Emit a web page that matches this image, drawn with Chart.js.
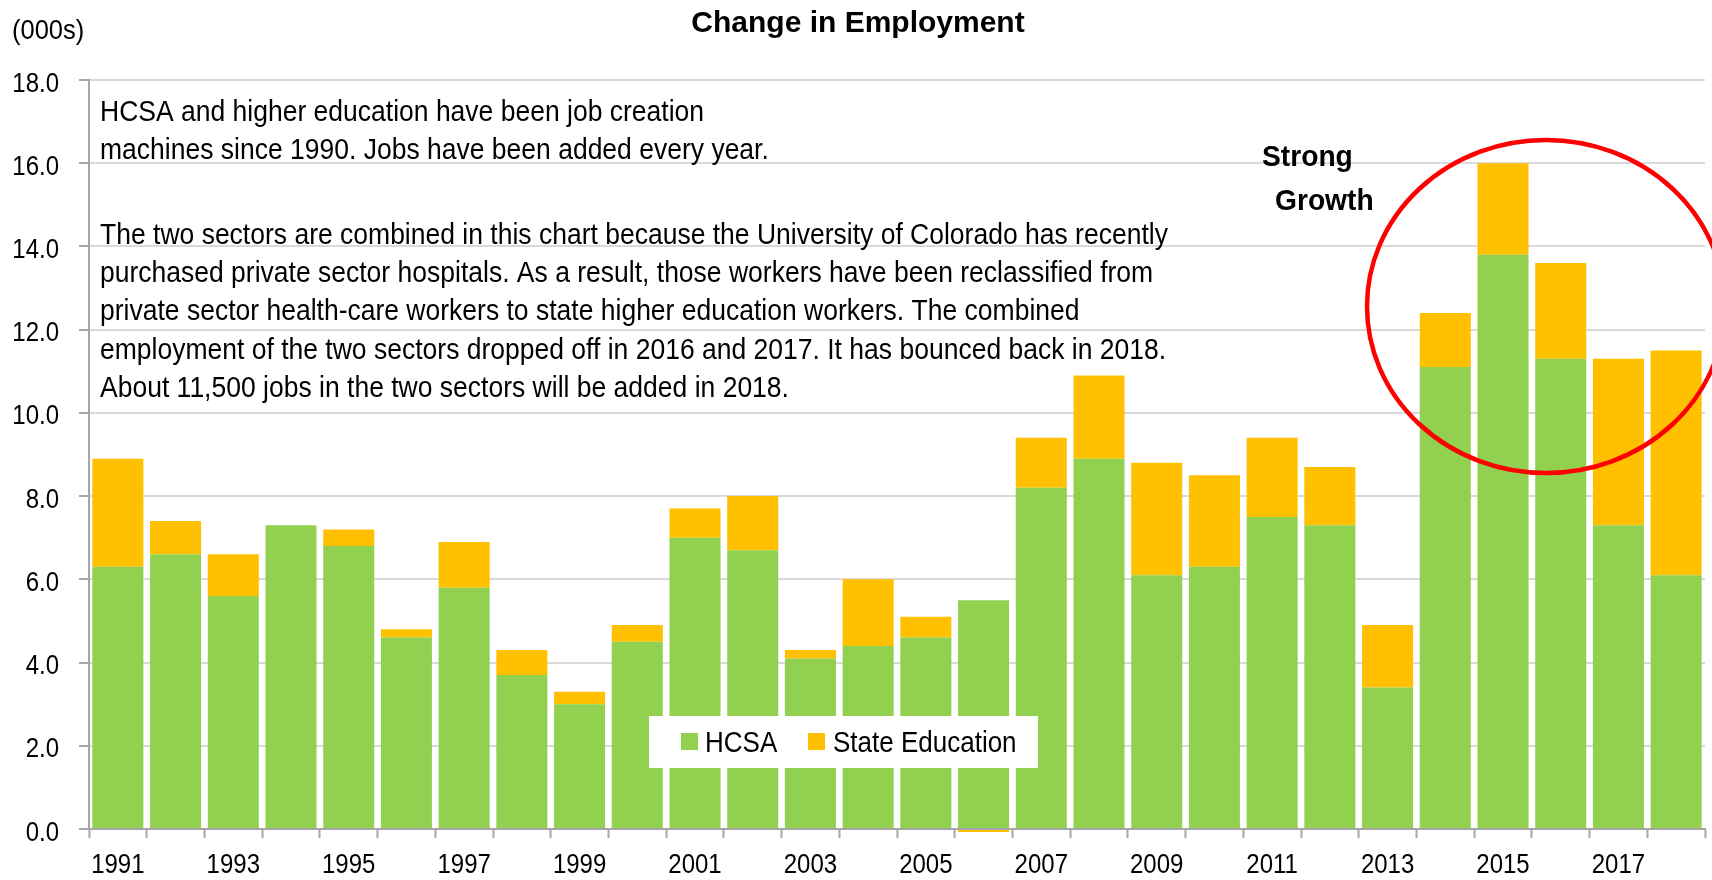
<!DOCTYPE html>
<html>
<head>
<meta charset="utf-8">
<title>Change in Employment</title>
<script src="https://cdn.jsdelivr.net/npm/chart.js@4.4.1/dist/chart.umd.min.js"></script>
<style>
    html, body { margin: 0; padding: 0; background: #fff; }
    #wrap { width: 1712px; height: 880px; position: relative; }
</style>
</head>
<body>
<div id="wrap"><canvas id="employmentChart"></canvas></div>
<script>
// values (thousands of jobs added per year)
const years = ['1991', '1992', '1993', '1994', '1995', '1996', '1997', '1998', '1999', '2000',
    '2001', '2002', '2003', '2004', '2005', '2006', '2007', '2008', '2009', '2010',
    '2011', '2012', '2013', '2014', '2015', '2016', '2017', '2018'];
const hcsa = [6.3, 6.6, 5.6, 7.3, 6.8, 4.6, 5.8, 3.7, 3.0, 4.5,
    7.0, 6.7, 4.1, 4.4, 4.6, 5.5, 8.2, 8.9, 6.1, 6.3,
    7.5, 7.3, 3.4, 11.1, 13.8, 11.3, 7.3, 6.1];
const stateEducation = [2.6, 0.8, 1.0, 0.0, 0.4, 0.2, 1.1, 0.6, 0.3, 0.4,
    0.7, 1.3, 0.2, 1.6, 0.5, -0.07, 1.2, 2.0, 2.7, 2.2,
    1.9, 1.4, 1.5, 1.3, 2.2, 2.3, 4.0, 5.4];

// axis labels
const labelledYears = ['1991', '1993', '1995', '1997', '1999', '2001', '2003',
    '2005', '2007', '2009', '2011', '2013', '2015', '2017'];
const yMin = 0, yMax = 18, yStep = 2;

// texts
const chartTitle = 'Change in Employment';
const unitsLabel = '(000s)';
const noteLines = [
    'HCSA and higher education have been job creation',
    'machines since 1990. Jobs have been added every year.',
    'The two sectors are combined in this chart because the University of Colorado has recently',
    'purchased private sector hospitals. As a result, those workers have been reclassified from',
    'private sector health-care workers to state higher education workers. The combined',
    'employment of the two sectors dropped off in 2016 and 2017. It has bounced back in 2018.',
    'About 11,500 jobs in the two sectors will be added in 2018.'
];
const calloutLines = ['Strong', 'Growth'];

const FONT = '"Liberation Sans", Arial, Helvetica, sans-serif';
Chart.defaults.font.family = FONT;
Chart.defaults.color = '#000';

// the original's lettering is a bit taller than Arial, so stretch it vertically
function drawText(ctx, text, x, y, stretch, align) {
    ctx.save();
    ctx.translate(x, y);
    ctx.scale(1, stretch);
    ctx.textAlign = align || 'left';
    ctx.fillText(text, 0, 0);
    ctx.restore();
}

// draws tick labels, title, note, callout circle and the legend box on top of the bars
const overlayPlugin = {
    id: 'overlay',
    afterDraw(chart) {
        const ctx = chart.ctx;
        ctx.save();
        ctx.fillStyle = '#000';
        ctx.textBaseline = 'alphabetic';

        // tick labels, placed from the scales
        const xScale = chart.scales.x;
        const yScale = chart.scales.y;
        ctx.font = '24px ' + FONT;
        xScale.ticks.forEach((tick, i) => {
            const label = xScale.getLabelForValue(tick.value);
            if (!labelledYears.includes(label)) return;
            drawText(ctx, label, xScale.getPixelForTick(i), 873, 1.12, 'center');
        });
        yScale.ticks.forEach(tick => {
            drawText(ctx, tick.label, 59, yScale.getPixelForValue(tick.value) + 11.6, 1.12, 'right');
        });

        // title
        ctx.font = 'bold 30px ' + FONT;
        drawText(ctx, chartTitle, 858, 32, 1.0, 'center');

        // units
        ctx.font = '25.5px ' + FONT;
        drawText(ctx, unitsLabel, 12, 38.5, 1.1);

        // note
        const noteY = [120.5, 158.8, 243.6, 282, 320.3, 358.6, 397];
        ctx.font = '26.5px ' + FONT;
        noteLines.forEach((line, i) => drawText(ctx, line, 100, noteY[i], 1.09));

        // callout
        ctx.font = 'bold 28.2px ' + FONT;
        drawText(ctx, calloutLines[0], 1262, 165.7, 1.06);
        drawText(ctx, calloutLines[1], 1275, 210, 1.06);

        // red circle round the recent years
        ctx.beginPath();
        ctx.ellipse(1546, 306.5, 179, 166.5, 0, 0, Math.PI * 2);
        ctx.strokeStyle = '#FF0000';
        ctx.lineWidth = 4.5;
        ctx.stroke();

        // legend box
        ctx.fillStyle = '#fff';
        ctx.fillRect(649, 716, 389, 52);
        ctx.font = '26px ' + FONT;
        const items = [{ sx: 681, tx: 705 }, { sx: 808, tx: 833 }];
        chart.data.datasets.forEach((ds, i) => {
            ctx.fillStyle = ds.backgroundColor;
            ctx.fillRect(items[i].sx, 733, 17, 17);
            ctx.fillStyle = '#000';
            drawText(ctx, ds.label, items[i].tx, 751.5, 1.13);
        });

        ctx.restore();
    }
};

document.addEventListener('DOMContentLoaded', function () {
    const ctx = document.getElementById('employmentChart').getContext('2d');

    const employmentChart = new Chart(ctx, {
        type: 'bar',
        data: {
            labels: years,
            datasets: [{
                label: 'HCSA',
                data: hcsa,
                backgroundColor: '#92D050',
                barPercentage: 0.884,
                categoryPercentage: 1,
                clip: false
            }, {
                label: 'State Education',
                data: stateEducation,
                backgroundColor: '#FFC000',
                barPercentage: 0.884,
                categoryPercentage: 1,
                clip: false
            }]
        },
        options: {
            responsive: true,
            maintainAspectRatio: false,
            animation: false,
            layout: { padding: { top: 80, right: 7, bottom: 0, left: 0 } },
            plugins: {
                legend: { display: false },
                title: { display: false },
                tooltip: { enabled: false }
            },
            scales: {
                x: {
                    stacked: true,
                    offset: true,
                    z: 1,
                    grid: {
                        offset: true,
                        drawOnChartArea: false,
                        tickLength: 9,
                        tickColor: '#A6A6A6',
                        tickWidth: 2
                    },
                    border: { color: '#A6A6A6', width: 2 },
                    ticks: {
                        autoSkip: false,
                        maxRotation: 0,
                        padding: 10,
                        font: { size: 24 },
                        color: 'rgba(0,0,0,0)',   // labels are drawn by the overlay
                        callback: function (value) {
                            const label = this.getLabelForValue(value);
                            return labelledYears.includes(label) ? label : '';
                        }
                    },
                    afterFit: function (scale) { scale.height = 51; }
                },
                y: {
                    stacked: true,
                    min: yMin,
                    max: yMax,
                    ticks: {
                        stepSize: yStep,
                        padding: 20,
                        font: { size: 24 },
                        color: 'rgba(0,0,0,0)',
                        callback: value => value.toFixed(1)
                    },
                    grid: {
                        color: '#D9D9D9',
                        lineWidth: 2,
                        tickLength: 10,
                        tickColor: '#A6A6A6',
                        tickWidth: 2
                    },
                    border: { color: '#A6A6A6', width: 2 },
                    afterFit: function (scale) { scale.width = 89; }
                }
            }
        },
        plugins: [overlayPlugin]
    });
});
</script>
</body>
</html>
